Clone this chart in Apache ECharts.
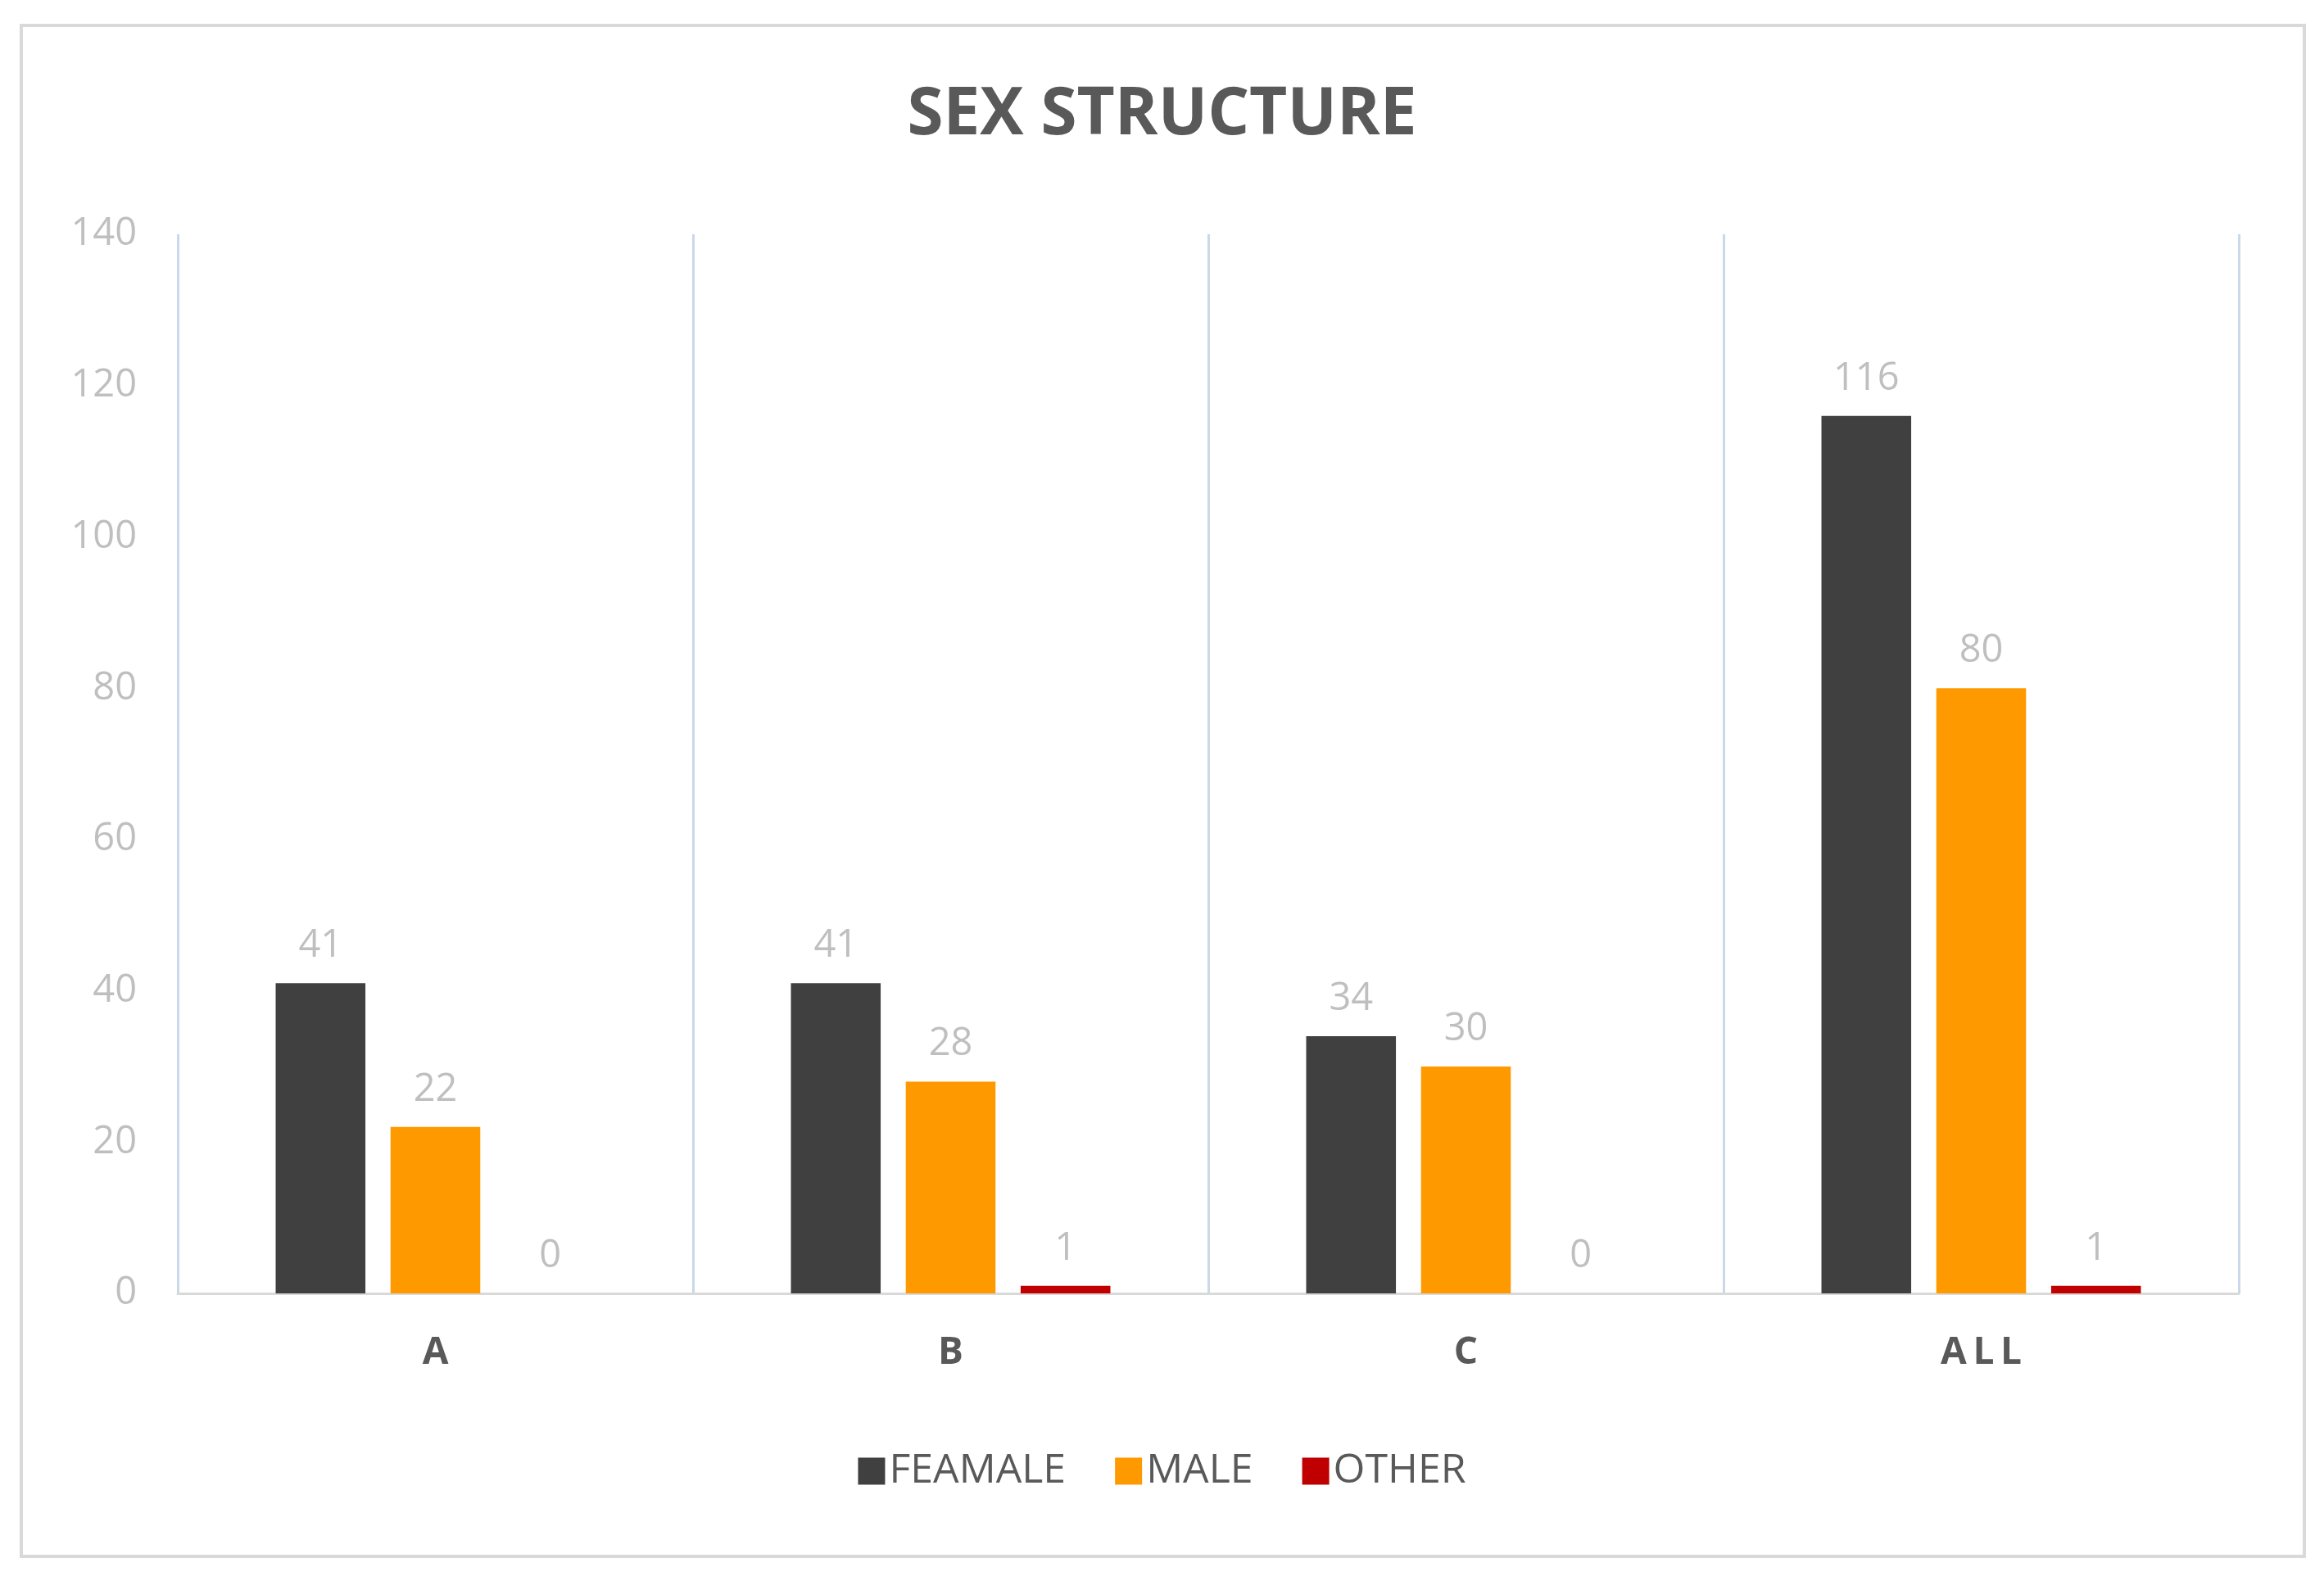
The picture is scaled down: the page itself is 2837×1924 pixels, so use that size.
<!DOCTYPE html>
<html><head><meta charset="utf-8">
<script src="https://cdn.jsdelivr.net/npm/echarts@6/dist/echarts.min.js"></script>
<style>html,body{margin:0;background:#fff}#c{width:2837px;height:1924px}</style>
</head><body><div id="c"></div>
<script>
const categories = ['A', 'B', 'C', 'ALL'];
const feamale = [41, 41, 34, 116];
const male = [22, 28, 30, 80];
const other = [0, 1, 0, 1];
const yTicks = [0, 20, 40, 60, 80, 100, 120, 140];

const chart = echarts.init(document.getElementById('c'));
const lbl = {show: true, position: 'top', distance: 22, color: '#bfbfbf', fontSize: 47, fontFamily: 'Open Sans'};
function s(name, data, color) {
  return {name, type: 'bar', data, itemStyle: {color}, label: lbl, barGap: '28%', barCategoryGap: '38%'};
}
chart.setOption({
  animation: false,
  backgroundColor: '#fff',
  graphic: [{type: 'rect', shape: {x: 26, y: 31, width: 2787, height: 1869},
    style: {fill: 'none', stroke: '#d9d9d9', lineWidth: 4}}],
  title: {text: 'SEX STRUCTURE', left: 'center', top: 96,
    textStyle: {fontFamily: 'Open Sans', fontWeight: 'bold', fontSize: 80, color: '#595959'}},
  legend: {bottom: 98, left: 'center', itemWidth: 33, itemHeight: 33, itemGap: 60,
    icon: 'rect', textStyle: {fontFamily: 'Open Sans', fontSize: 50, color: '#595959'}},
  grid: {left: 217, right: 104, top: 286, bottom: 345},
  xAxis: {type: 'category', data: categories,
    axisLine: {lineStyle: {color: '#d9d9d9', width: 3}}, axisTick: {show: false},
    axisLabel: {fontFamily: 'Open Sans', fontWeight: 'bold', fontSize: 46, color: '#595959', margin: 50,
      formatter: v => v.split('').join('\u2009')},
    splitLine: {show: true, interval: 0, lineStyle: {color: '#c9d8ea', width: 3}}},
  yAxis: {type: 'value', min: 0, max: 140, interval: 20,
    axisLine: {show: false}, axisTick: {show: false}, splitLine: {show: false},
    axisLabel: {fontFamily: 'Open Sans', fontSize: 47, color: '#bfbfbf', margin: 50,
      formatter: v => yTicks.includes(v) ? String(v) : ''}},
  series: [s('FEAMALE', feamale, '#404040'), s('MALE', male, '#ff9900'), s('OTHER', other, '#c00000')]
});
</script></body></html>
